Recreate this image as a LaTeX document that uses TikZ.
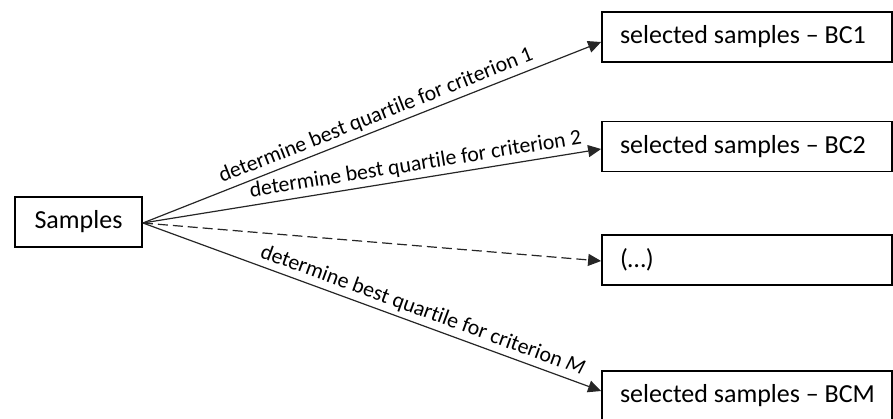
\documentclass[tikz,border=0pt]{standalone}
\usepackage{fontspec}
\setmainfont[Ligatures={NoCommon}]{Carlito}
\usetikzlibrary{arrows.meta}
\newcommand\lbox[1]{\makebox[254pt][l]{#1}}
\tikzset{
  boxnode/.style={draw=black, line width=1.8pt, minimum height=50pt, inner xsep=18pt, inner ysep=0pt, font=\fontsize{26}{30}\selectfont, fill=white},
  conn/.style={line width=1.2pt, draw=black!85, -{Triangle[length=13pt,width=12pt]}},
  lbl/.style={above, sloped, inner sep=4pt, font=\fontsize{21.8}{25}\selectfont}
}
\begin{document}
\begin{tikzpicture}[x=1pt,y=-1pt]
\useasboundingbox (0,0) rectangle (893,419);
\node[boxnode, minimum width=127pt, inner xsep=0pt] (S) at (78.5,222) {Samples};
\node[boxnode, minimum width=290pt] (b1) at (747,37) {\lbox{selected samples -- BC1}};
\node[boxnode, minimum width=290pt] (b2) at (747,146.5) {\lbox{selected samples -- BC2}};
\node[boxnode, minimum width=290pt] (b3) at (747,260) {\lbox{(…)}};
\node[boxnode, minimum width=290pt] (b4) at (747,396) {\lbox{selected samples -- BCM}};
\coordinate (o) at ([yshift=-1pt]S.east);
\draw[conn] (o) -- ([yshift=-5pt]b1.west) node[lbl, pos=0.52] {determine best quartile for criterion 1};
\draw[conn] (o) -- ([yshift=-2.5pt]b2.west) node[lbl, pos=0.60] {determine best quartile for criterion 2};
\draw[conn, dash pattern=on 10pt off 5pt] (o) -- ([yshift=-1pt]b3.west);
\draw[conn] (o) -- ([yshift=5pt]b4.west) node[lbl, pos=0.60] {determine best quartile for criterion \textit{M}};
\end{tikzpicture}
\end{document}
